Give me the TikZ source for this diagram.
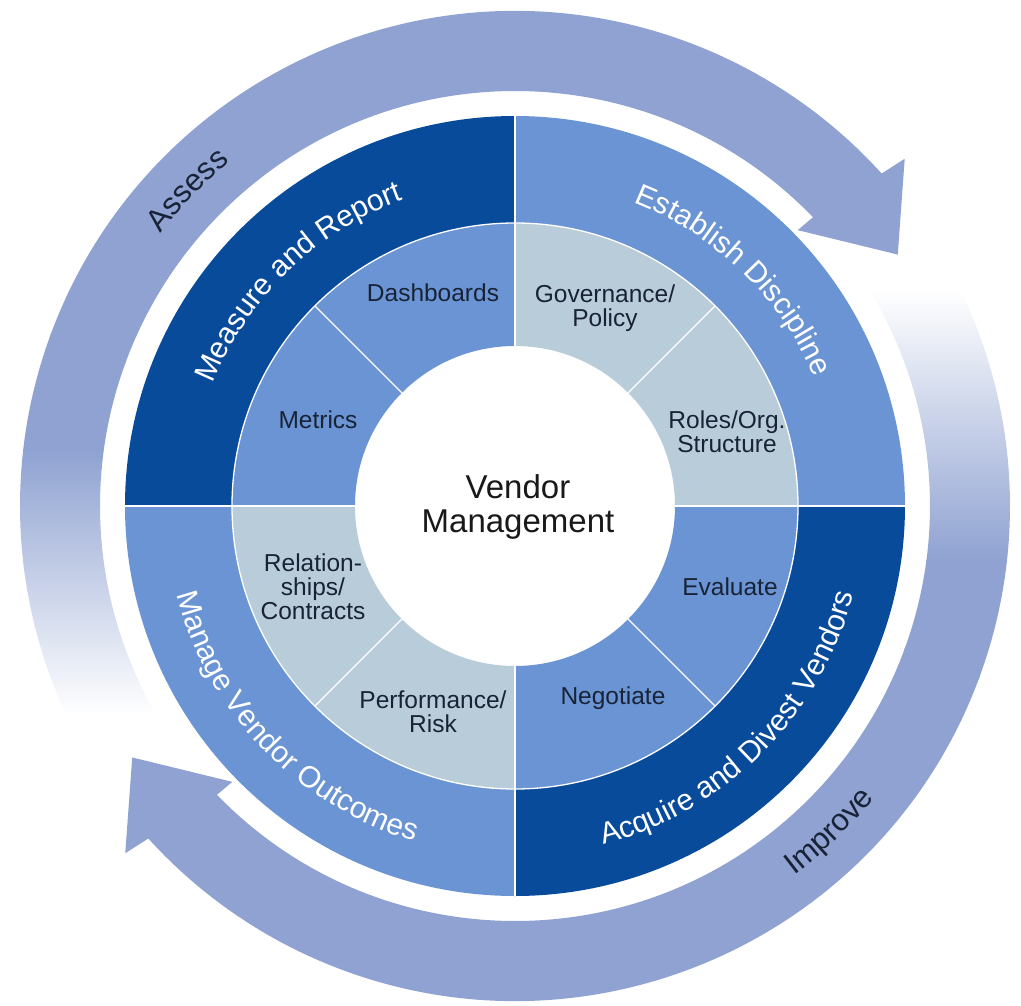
\documentclass[tikz,border=0pt]{standalone}
\usepackage{fontspec}
\setmainfont{Liberation Sans}
\usetikzlibrary{decorations.text}

\definecolor{arrowc}{RGB}{143,162,209}
\definecolor{darkq}{RGB}{8,75,155}
\definecolor{medq}{RGB}{106,148,211}
\definecolor{lightq}{RGB}{185,204,217}
\definecolor{innertxt}{RGB}{25,35,55}
\definecolor{centertxt}{RGB}{25,25,25}

% annular sector: start angle, end angle, inner radius, outer radius, colour
\newcommand\ringpart[5]{%
  \fill[#5] (#1:#3) arc[start angle=#1, end angle=#2, radius=#3]
    -- (#2:#4) arc[start angle=#2, end angle=#1, radius=#4] -- cycle;}
% same sector as a clipping region
\newcommand\ringclip[4]{%
  \clip (#1:#3) arc[start angle=#1, end angle=#2, radius=#3]
    -- (#2:#4) arc[start angle=#2, end angle=#1, radius=#4] -- cycle;}

\begin{document}
\begin{tikzpicture}[x=1pt,y=1pt,
  inner/.style={font=\fontsize{24.5}{24}\selectfont, text=innertxt, align=center, inner sep=0pt},
  centre/.style={font=\fontsize{33}{34}\selectfont, text=centertxt, align=center, inner sep=0pt},
  divider/.style={draw=white, line width=1.3pt},
  bandtext/.style={decorate, decoration={text along path, text align=center,
      text color=white, text={|\fontsize{30}{30}\selectfont|#1}}},
  cycletext/.style={decorate, decoration={text along path, text align=center,
      text color=innertxt, text={|\fontsize{31}{31}\selectfont|#1}}}]
\useasboundingbox (-515,-499) rectangle (506,506);

% upper cycle arrow (clockwise, tail fading out on the left)
\fill[arrowc] (160:495pt) arc[start angle=160, end angle=42.2, radius=495pt]
  -- (41.7:522pt) -- (33.3:458pt) -- (44.3:395pt) -- (44.1:415pt)
  arc[start angle=44.1, end angle=160, radius=415pt] -- cycle;
\begin{scope}
  \ringclip{159.5}{216}{415pt}{495pt}
  \fill[arrowc] (-520,56) rectangle (-300,200);
  \shade[top color=arrowc, bottom color=white] (-520,-209) rectangle (-300,56.5);
\end{scope}

% lower cycle arrow (clockwise, tail fading in on the right)
\fill[arrowc] (-20:495pt) arc[start angle=-20, end angle=-137.8, radius=495pt]
  -- (221.7:522pt) -- (213.3:458pt) -- (224.3:395pt) -- (224.1:415pt)
  arc[start angle=-135.9, end angle=-20, radius=415pt] -- cycle;
\begin{scope}
  \ringclip{40}{-20.5}{415pt}{495pt}
  \fill[arrowc] (300,-200) rectangle (520,-54);
  \shade[top color=white, bottom color=arrowc] (300,-54.5) rectangle (520,216);
\end{scope}

% outer band: the four practice areas
\ringpart{90}{180}{283pt}{390pt}{darkq}
\ringpart{0}{90}{283pt}{390pt}{medq}
\ringpart{-90}{0}{283pt}{390pt}{darkq}
\ringpart{180}{270}{283pt}{390pt}{medq}

% inner band: the activities
\ringpart{90}{180}{160pt}{283pt}{medq}
\ringpart{0}{90}{160pt}{283pt}{lightq}
\ringpart{-90}{0}{160pt}{283pt}{medq}
\ringpart{180}{270}{160pt}{283pt}{lightq}

% white separators
\foreach \a in {0,90,180,270} \draw[divider] (\a:160pt) -- (\a:390pt);
\foreach \a in {45,135,225,315} \draw[divider] (\a:160pt) -- (\a:283pt);
\draw[divider] (0,0) circle[radius=283pt];

% centre
\node[centre] (vm) at (3,-1) {Vendor\\Management};

% activity labels
\node[inner] (dash) at (-82,213) {Dashboards};
\node[inner] (metr) at (-197,86) {Metrics};
\node[inner] (gov)  at (90,198) {Governance/\\Policy};
\node[inner] (roles) at (212,74) {Roles/Org.\\Structure};
\node[inner] (eval) at (215,-81) {Evaluate};
\node[inner] (nego) at (98,-192) {Negotiate};
\node[inner] (rel)  at (-202,-81) {Relation-\\ships/\\Contracts};
\node[inner] (perf) at (-82,-206) {Performance/\\Risk};

% practice area labels along the band
\path[bandtext={Measure and Report}] (175:326pt) arc[start angle=175, end angle=93, radius=326pt];
\path[bandtext={Establish Discipline}] (87:326pt) arc[start angle=87, end angle=5, radius=326pt];
\path[bandtext={Manage Vendor Outcomes}] (183:350pt) arc[start angle=183, end angle=265, radius=350pt];
\path[bandtext={Acquire and Divest Vendors}] (-86:350pt) arc[start angle=-86, end angle=-4, radius=350pt];

% cycle labels on the arrows
\path[cycletext={Assess}] (156:447pt) arc[start angle=156, end angle=116, radius=447pt];
\path[cycletext={Improve}] (-66:463pt) arc[start angle=-66, end angle=-26, radius=463pt];
\end{tikzpicture}
\end{document}
